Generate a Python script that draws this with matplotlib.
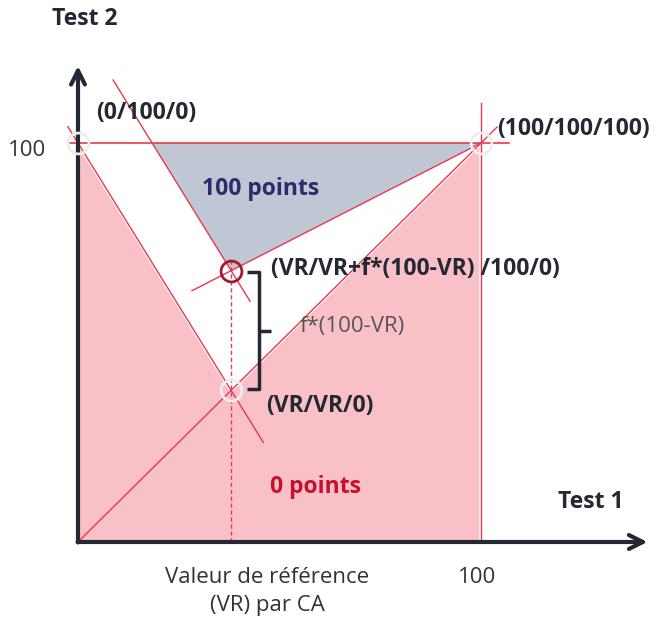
import matplotlib
matplotlib.use("Agg")
import matplotlib.pyplot as plt
from matplotlib.patches import Polygon

plt.rcParams['font.family'] = ['Open Sans', 'DejaVu Sans']

# --- values ---
vr = 38            # valeur de reference (Test 1 = Test 2 = VR)
upper = 68         # VR + f*(100-VR)
full = 100
corner_labels = ["(0/100/0)", "(100/100/100)", "(VR/VR+f*(100-VR) /100/0)", "(VR/VR/0)"]
zone_labels = ["100 points", "0 points"]
axis_labels = ["Test 1", "Test 2"]
tick_labels = ["100", "100"]
vr_label = "Valeur de référence\n(VR) par CA"
gap_label = "f*(100-VR)"

DARK = "#232833"
RED = "#e8384f"
PINK = "#f9c1c7"
GREY = "#bfc6d4"

fig = plt.figure(figsize=(6.56, 6.28), dpi=100)
ax = fig.add_axes([0, 0, 1, 1])
# pixel origin at (78, 542); ~4.03 px per unit in x, ~3.99 in y
ax.set_xlim(-78 / 4.03, (656 - 78) / 4.03)
ax.set_ylim(-(628 - 542) / 3.99, 542 / 3.99)
ax.axis("off")

# slopes of the two parallel lines
m1 = (vr - full) / vr
x_top2 = vr + (full - upper) / m1   # where the upper parallel line meets y=100

# filled zones
ax.add_patch(Polygon([(0, 0), (0, full), (vr, vr), (full, full), (full, 0)],
                     closed=True, facecolor=PINK, edgecolor="white", lw=2.5, zorder=1))
ax.add_patch(Polygon([(x_top2, full), (full, full), (vr, upper)],
                     closed=True, facecolor=GREY, edgecolor="none", zorder=1))

# construction lines
ax.plot([0, 104], [0, 104], color=RED, lw=1, zorder=2)
xs = [-2.5, 46]
ax.plot(xs, [full + m1 * x for x in xs], color=RED, lw=1, zorder=2)
xs = [8.7, 42.7]
ax.plot(xs, [upper + m1 * (x - vr) for x in xs], color=RED, lw=1, zorder=2)
m3 = (full - upper) / (full - vr)
xs = [28.3, full]
ax.plot(xs, [upper + m3 * (x - vr) for x in xs], color=RED, lw=1, zorder=2)
ax.plot([-2, 107], [full, full], color=RED, lw=1.2, zorder=2)
ax.plot([full, full], [0, 110], color=RED, lw=1, zorder=2)
ax.plot([vr, vr], [0, upper + 3], color=RED, lw=1, ls=(0, (3, 2)), zorder=2)

# axes with arrows
ax.annotate("", xy=(142, 0), xytext=(-0.8, 0),
            arrowprops=dict(arrowstyle="->,head_length=1.0,head_width=0.5", lw=3, color=DARK),
            zorder=4)
ax.annotate("", xy=(0, 120), xytext=(0, -0.8),
            arrowprops=dict(arrowstyle="->,head_length=1.0,head_width=0.5", lw=3, color=DARK),
            zorder=4)

# marker circles
ax.plot([0, vr, full], [full, vr, full], "o", ms=15, mfc="none", mec="#eeeeee", mew=2, zorder=5)
ax.plot([vr], [upper], "o", ms=15, mfc="none", mec="#a6192e", mew=2, zorder=5)

# bracket
bx = vr + 6.8
ax.plot([bx - 2.8, bx, bx, bx - 2.8], [upper - 0.3, upper - 0.3, vr + 0.3, vr + 0.3],
        color=DARK, lw=2.5, solid_capstyle="butt", zorder=4)
ax.plot([bx, bx + 3], [(upper + vr) / 2, (upper + vr) / 2], color=DARK, lw=2.5,
        solid_capstyle="butt", zorder=4)

# texts
bold = dict(fontweight="bold", color=DARK, fontsize=16.5)
reg = dict(fontsize=16, color="#333333")
ax.text(1.7, 131, axis_labels[1], ha="center", va="center", **bold)
ax.text(127.3, 10, axis_labels[0], ha="center", va="center", **bold)
ax.text(-12.7, full - 2, tick_labels[1], ha="center", va="center", **reg)
ax.text(99, -9, tick_labels[0], ha="center", va="center", **reg)
ax.text(47, -12.5, vr_label, ha="center", va="center", linespacing=1.45, **reg)
ax.text(4.5, 107.5, corner_labels[0], ha="left", va="center", **bold)
ax.text(104, 103.5, corner_labels[1], ha="left", va="center", **bold)
ax.text(48, upper + 0.5, corner_labels[2], ha="left", va="center", **bold)
ax.text(46.8, vr - 3.8, corner_labels[3], ha="left", va="center", **bold)
ax.text(55, 54, gap_label, ha="left", va="center", fontsize=16, color="#555555")
ax.text(45.2, 88.5, zone_labels[0], ha="center", va="center", fontweight="bold",
        fontsize=16.5, color="#2e2a6b")
ax.text(59, 13.7, zone_labels[1], ha="center", va="center", fontweight="bold",
        fontsize=16.5, color="#c8102e")

fig.savefig("out.png", dpi=100)
